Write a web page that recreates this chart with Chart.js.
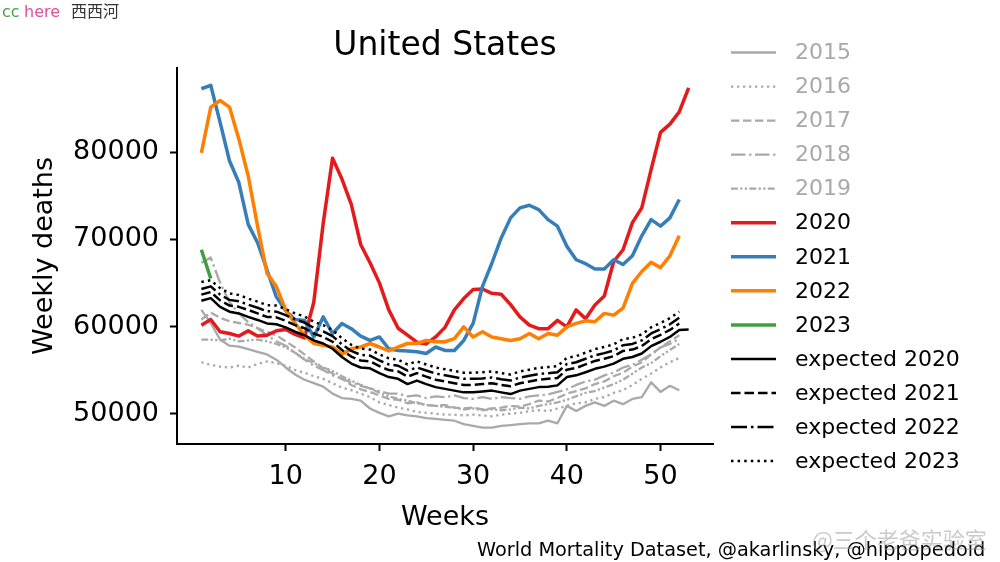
<!DOCTYPE html>
<html>
<head>
<meta charset="utf-8">
<script src="https://cdn.jsdelivr.net/npm/chart.js@4.4.1/dist/chart.umd.min.js"></script>
<style>
  html, body { margin: 0; padding: 0; background: #ffffff; }
  #wrap { width: 1000px; height: 562px; position: relative; }
</style>
</head>
<body>
<div id="wrap"><canvas id="c"></canvas></div>
<script>
// ---------- DATA ----------
const weeks = [1,2,3,4,5,6,7,8,9,10,11,12,13,14,15,16,17,18,19,20,21,22,23,24,25,26,27,28,29,30,31,32,33,34,35,36,37,38,39,40,41,42,43,44,45,46,47,48,49,50,51,52,53];
const xTicks = [10, 20, 30, 40, 50];
const yTicks = [50000, 60000, 70000, 80000];

const y2015 = [61900,60400,58500,57800,57700,57400,57100,56800,56200,55300,54500,53900,53500,53100,52300,51800,51700,51500,50600,50100,49700,50000,49800,49700,49500,49400,49300,49200,48800,48600,48400,48400,48600,48700,48800,48900,48900,49200,48900,50900,50300,50900,51300,50900,51500,51100,51700,51900,53600,52500,53200,52700];
const y2016 = [55900,55600,55400,55300,55500,55300,55700,56000,55800,55500,55000,54700,54300,54000,53500,53000,52700,52300,51900,51300,51000,50700,50500,50200,50100,50000,49900,49900,49800,49900,49800,49700,49900,50000,50100,50300,50400,50300,50600,50900,51200,51300,51700,51900,52400,52700,53300,54000,54600,55300,55900,56400];
const y2017 = [60800,61600,61000,60600,60400,60200,59800,59400,59000,58300,57600,56800,56000,55200,54600,54000,53300,52800,52500,52100,51700,51600,51200,51300,51000,50900,51000,50700,50600,50700,50500,50600,50700,50900,50800,51100,51500,51400,51800,52300,52600,52900,53400,53700,54300,54700,55400,55900,56800,57600,58300,59000];
const y2018 = [67300,67900,65000,62800,61500,60500,59800,59000,58300,57800,57000,56200,55500,55000,54400,54000,53600,53200,52900,52600,52300,52300,52000,52100,51800,52000,51900,52100,51800,51700,51900,51700,51900,51800,51700,52000,52100,52200,52500,52800,53300,53700,53900,54400,54700,55300,55600,56200,56800,57600,58000,58600];
const y2019 = [58500,58500,58400,58600,58300,58400,58500,58300,58000,57600,57000,56300,55800,55300,54900,54300,53800,53300,52900,52400,52000,51700,51500,51200,51000,50900,50800,50700,50500,50600,50400,50500,50400,50500,50700,50600,50900,51100,51300,51600,52000,52400,52600,53000,53400,53900,54600,55300,55800,56600,57300,58000];
const y2020 = [60150,60800,59400,59200,58900,59500,58900,59000,59500,59650,59100,58700,62800,71800,79300,76900,74000,69400,67300,65000,61900,59800,59000,58200,58000,58800,59900,61900,63200,64250,64300,63800,63700,62500,61100,60150,59750,59750,60700,59950,61900,60900,62450,63500,67450,68800,71900,73600,78000,82250,83200,84600,87350];
const y2021 = [87250,87650,83400,79000,76500,71700,69600,66500,63400,61800,60800,60700,58800,61100,59200,60350,59750,58900,58400,58800,57450,57250,57200,57100,56900,57650,57250,57250,58400,60350,64600,67250,70150,72450,73600,73900,73400,72250,71500,69200,67650,67200,66600,66600,67650,67100,68100,70400,72250,71500,72450,74550];
const y2022 = [79900,85150,85900,85150,81500,77250,71500,66100,64600,61900,60350,59000,58050,57850,57650,56800,57450,57650,58050,57650,57200,57650,58050,58050,58400,58250,58250,58600,59950,58800,59400,58800,58600,58400,58600,59200,58600,59200,59000,59950,60350,60650,60550,61500,61300,62100,64950,66300,67350,66750,68100,70400];
const y2023 = [68800,65500];
const exp2020 = [62950,63250,62250,61700,61500,61100,60750,60350,60250,59900,59400,59000,58400,58050,57450,56500,55750,55300,55200,54650,54200,54000,53400,53800,53400,53050,52850,52650,52450,52450,52550,52650,52450,52250,52650,52850,53050,53100,53250,54200,54400,54750,55150,55400,55750,56300,56500,56900,57750,58250,58800,59600,59650];
const exp2021 = [63650,63950,63000,62400,62250,61900,61500,61100,61050,60650,60150,59800,59200,58800,58250,57300,56550,56100,56000,55450,55000,54850,54250,54650,54250,53900,53700,53500,53300,53300,53400,53500,53300,53150,53500,53700,53900,54000,54100,55050,55250,55650,56050,56300,56600,57200,57350,57750,58550,59050,59600,60350];
const exp2022 = [64300,64600,63650,63050,62900,62500,62150,61750,61700,61300,60800,60450,59850,59450,58900,57950,57200,56750,56650,56100,55650,55500,54950,55300,54950,54600,54400,54200,54000,54000,54050,54150,53950,53800,54150,54350,54550,54650,54750,55700,55900,56300,56700,56950,57250,57850,58000,58400,59200,59700,60250,61000];
const exp2023 = [65100,65300,64400,63800,63600,63200,62850,62450,62400,62000,61500,61150,60550,60150,59600,58650,57900,57450,57350,56800,56350,56200,55650,56000,55650,55300,55100,54900,54700,54700,54750,54850,54650,54500,54850,55050,55250,55350,55450,56400,56600,57000,57400,57650,57950,58550,58700,59100,59900,60400,60950,61700];

const seriesLabels = ['2015','2016','2017','2018','2019','2020','2021','2022','2023','expected 2020','expected 2021','expected 2022','expected 2023'];
const seriesValues = [y2015,y2016,y2017,y2018,y2019,y2020,y2021,y2022,y2023,exp2020,exp2021,exp2022,exp2023];

// ---------- STYLES ----------
const GREY = '#a9a9a9';
const styles = [
  {color: GREY, width: 2.3, dash: []},
  {color: GREY, width: 2.3, dash: [2.3, 3.7]},
  {color: GREY, width: 2.3, dash: [8.4, 3.6]},
  {color: GREY, width: 2.3, dash: [14.5, 3.6, 2.3, 3.6]},
  {color: GREY, width: 2.3, dash: [6.9, 2.3, 2.3, 2.3, 2.3, 2.3]},
  {color: '#e41a1c', width: 3.5, dash: []},
  {color: '#377eb8', width: 3.5, dash: []},
  {color: '#ff7f00', width: 3.5, dash: []},
  {color: '#3f9f3c', width: 3.5, dash: []},
  {color: '#000000', width: 2.5, dash: []},
  {color: '#000000', width: 2.5, dash: [9.5, 4]},
  {color: '#000000', width: 2.5, dash: [16, 4, 2.5, 4]},
  {color: '#000000', width: 2.5, dash: [2.5, 4.1]}
];
const legendTextColors = [GREY,GREY,GREY,GREY,GREY,'#000','#000','#000','#000','#000','#000','#000','#000'];

const N = seriesLabels.length;
const datasets = seriesValues.map((vals, i) => ({
  label: seriesLabels[i],
  data: vals.map((v, k) => ({x: weeks[k], y: v})),
  borderColor: styles[i].color,
  borderWidth: styles[i].width,
  borderDash: styles[i].dash,
  borderCapStyle: 'butt',
  borderJoinStyle: 'round',
  pointRadius: 0,
  pointHoverRadius: 0,
  fill: false,
  tension: 0,
  order: N - i
}));

const FONT = 'DejaVu Sans';

const overlay = {
  id: 'overlay',
  afterDraw(chart) {
    const ctx = chart.ctx;
    const ca = chart.chartArea;
    ctx.save();
    // title
    ctx.fillStyle = '#000';
    ctx.font = '33px "' + FONT + '"';
    ctx.textAlign = 'center';
    ctx.textBaseline = 'alphabetic';
    ctx.fillText('United States', (ca.left + ca.right) / 2, 55);
    // x axis title
    ctx.font = '27px "' + FONT + '"';
    ctx.fillText('Weeks', (ca.left + ca.right) / 2, 525);
    // y axis title
    ctx.save();
    ctx.translate(52, (ca.top + ca.bottom) / 2);
    ctx.rotate(-Math.PI / 2);
    ctx.fillText('Weekly deaths', 0, 0);
    ctx.restore();
    // legend
    ctx.font = '22px "' + FONT + '"';
    ctx.textAlign = 'left';
    ctx.textBaseline = 'middle';
    chart.data.datasets.forEach((ds, i) => {
      const y = 52.5 + i * 34.05;
      ctx.save();
      ctx.strokeStyle = ds.borderColor;
      ctx.lineWidth = ds.borderWidth;
      ctx.setLineDash(ds.borderDash || []);
      ctx.lineCap = 'butt';
      ctx.beginPath();
      ctx.moveTo(731, y);
      ctx.lineTo(776, y);
      ctx.stroke();
      ctx.restore();
      ctx.fillStyle = legendTextColors[i];
      ctx.fillText(ds.label, 795, y + 1);
    });
    // footer
    ctx.fillStyle = '#000';
    ctx.font = '19.3px "' + FONT + '"';
    ctx.textBaseline = 'alphabetic';
    ctx.fillText('World Mortality Dataset, @akarlinsky, @hippopedoid', 477, 556);
    // watermark top-left
    ctx.font = '16px "' + FONT + '"';
    ctx.fillStyle = '#4a9a4a';
    ctx.fillText('cc', 2, 17);
    ctx.fillStyle = '#e0529c';
    ctx.fillText('here', 24, 17);
    ctx.fillStyle = '#333333';
    ctx.font = '16px "Noto Sans CJK SC"';
    ctx.fillText('西西河', 71, 17);
    // weibo watermark
    ctx.fillStyle = 'rgba(150,150,150,0.5)';
    ctx.font = '22px "Noto Sans CJK SC"';
    ctx.fillText('@三个老爸实验室', 812, 548);
    ctx.restore();
  }
};

new Chart(document.getElementById('c'), {
  type: 'line',
  data: { datasets },
  options: {
    responsive: true,
    maintainAspectRatio: false,
    devicePixelRatio: 1,
    animation: false,
    layout: { padding: { top: 68, right: 287, left: 0, bottom: 0 } },
    plugins: { legend: { display: false }, tooltip: { enabled: false }, title: { display: false } },
    scales: {
      x: {
        type: 'linear',
        min: -1.6,
        max: 55.6,
        afterFit: (s) => { s.height = 118; },
        afterBuildTicks: (s) => { s.ticks = xTicks.map(v => ({ value: v })); },
        grid: { display: true, drawOnChartArea: false, drawTicks: true, tickLength: 7, tickWidth: 2, tickColor: '#000' },
        border: { display: true, color: '#000', width: 2 },
        ticks: { color: '#000', font: { family: FONT, size: 27 }, padding: 10, maxRotation: 0, autoSkip: false, callback: (v) => String(v) }
      },
      y: {
        type: 'linear',
        min: 46530,
        max: 89630,
        afterFit: (s) => { s.width = 177; },
        afterBuildTicks: (s) => { s.ticks = yTicks.map(v => ({ value: v })); },
        grid: { display: true, drawOnChartArea: false, drawTicks: true, tickLength: 7, tickWidth: 2, tickColor: '#000' },
        border: { display: true, color: '#000', width: 2 },
        ticks: { color: '#000', font: { family: FONT, size: 27 }, padding: 11, autoSkip: false, callback: (v) => String(v) }
      }
    }
  },
  plugins: [overlay]
});
</script>
</body>
</html>
